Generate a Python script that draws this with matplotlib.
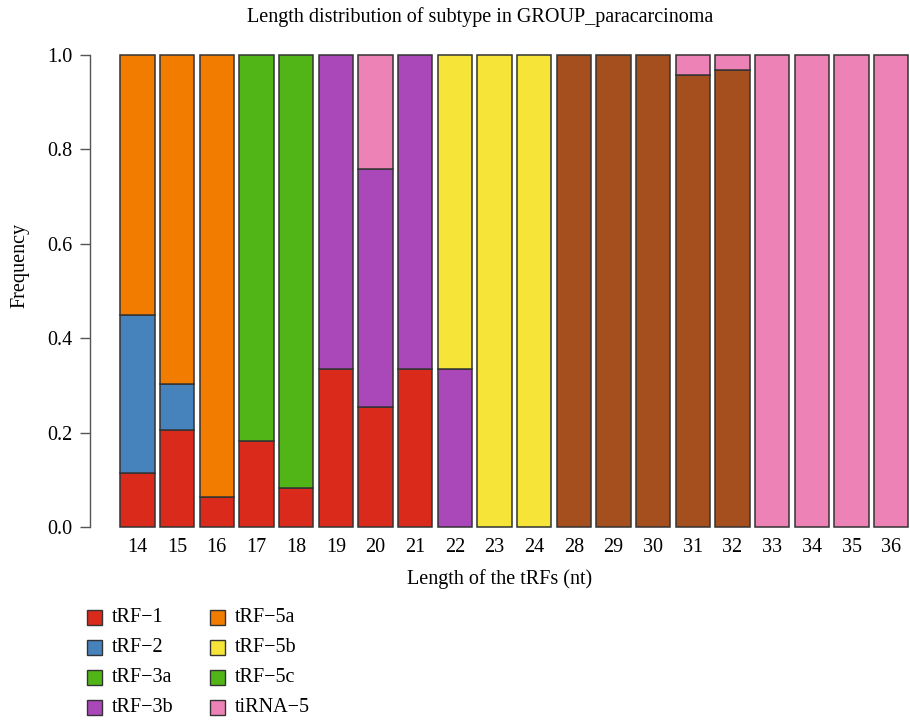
import numpy as np
import matplotlib
matplotlib.use("Agg")
import matplotlib.pyplot as plt
from matplotlib.patches import Rectangle

lengths = ["14", "15", "16", "17", "18", "19", "20", "21", "22", "23",
           "24", "28", "29", "30", "31", "32", "33", "34", "35", "36"]

subtypes = ["tRF\u22121", "tRF\u22122", "tRF\u22123a", "tRF\u22123b",
            "tRF\u22125a", "tRF\u22125b", "tRF\u22125c", "tiRNA\u22125"]

trf_1   = [0.115, 0.205, 0.064, 0.182, 0.083, 0.335, 0.255, 0.335, 0, 0, 0, 0, 0, 0, 0, 0, 0, 0, 0, 0]
trf_2   = [0.335, 0.098, 0, 0, 0, 0, 0, 0, 0, 0, 0, 0, 0, 0, 0, 0, 0, 0, 0, 0]
trf_3a  = [0, 0, 0, 0.818, 0.917, 0, 0, 0, 0, 0, 0, 0, 0, 0, 0, 0, 0, 0, 0, 0]
trf_3b  = [0, 0, 0, 0, 0, 0.665, 0.503, 0.665, 0.335, 0, 0, 0, 0, 0, 0, 0, 0, 0, 0, 0]
trf_5a  = [0.550, 0.697, 0.936, 0, 0, 0, 0, 0, 0, 0, 0, 0, 0, 0, 0, 0, 0, 0, 0, 0]
trf_5b  = [0, 0, 0, 0, 0, 0, 0, 0, 0.665, 1, 1, 0, 0, 0, 0, 0, 0, 0, 0, 0]
trf_5c  = [0, 0, 0, 0, 0, 0, 0, 0, 0, 0, 0, 1, 1, 1, 0.958, 0.968, 0, 0, 0, 0]
tirna_5 = [0, 0, 0, 0, 0, 0, 0.242, 0, 0, 0, 0, 0, 0, 0, 0.042, 0.032, 1, 1, 1, 1]

series = [trf_1, trf_2, trf_3a, trf_3b, trf_5a, trf_5b, trf_5c, tirna_5]
bar_colors = ["#D92A1C", "#4682BC", "#52B517", "#AA48BA",
              "#F17C00", "#F7E439", "#A54F1E", "#EC82B6"]
legend_colors = ["#D92A1C", "#4682BC", "#52B517", "#AA48BA",
                 "#F17C00", "#F7E439", "#52B517", "#EC82B6"]

plt.rcParams["font.family"] = ["Liberation Serif", "DejaVu Serif"]
FS = 14.5

W, H = 910, 720
fig = plt.figure(figsize=(W / 100, H / 100), dpi=100)


def fx(px):
    return px / W


def fy(py):
    return 1 - py / H


# plot region in pixel coordinates
left_px, right_px = 90, 910
bottom_px, top_px = 527, 55
ax = fig.add_axes([fx(left_px), fy(bottom_px),
                   (right_px - left_px) / W, (bottom_px - top_px) / H])

pitch = 39.67
center0 = 137.45
ax.set_xlim((left_px - center0) / pitch, (right_px - center0) / pitch)
ax.set_ylim(0, 1)

x = np.arange(len(lengths))
bottom = np.zeros(len(lengths))
for vals, col in zip(series, bar_colors):
    vals = np.array(vals, dtype=float)
    mask = vals > 0
    ax.bar(x[mask], vals[mask], bottom=bottom[mask], width=0.865,
           color=col, edgecolor="#333333", linewidth=1.1, clip_on=False)
    bottom += vals

for s in ["top", "right", "bottom"]:
    ax.spines[s].set_visible(False)
ax.spines["left"].set_color("#555555")
ax.spines["left"].set_linewidth(1.0)
ax.spines["left"].set_bounds(0, 1)

ax.set_yticks([0, 0.2, 0.4, 0.6, 0.8, 1.0])
ax.set_yticklabels(["0.0", "0.2", "0.4", "0.6", "0.8", "1.0"])
ax.tick_params(axis="y", length=7.2, width=1.0, color="#555555", labelsize=FS, pad=5.5)
ax.set_xticks(x)
ax.set_xticklabels(lengths)
ax.tick_params(axis="x", length=0, labelsize=FS, pad=8)

fig.text(fx(20), fy(265), "Frequency", rotation=90, ha="center", va="center", fontsize=FS)
fig.text(fx(500), fy(579), "Length of the tRFs (nt)", ha="center", va="center", fontsize=FS)
fig.text(fx(480), fy(17), "Length distribution of subtype in GROUP_paracarcinoma",
         ha="center", va="center", fontsize=FS)

# legend: two columns of four entries
sq = 15
row_y = [617, 647, 677, 707]
col_x = [87, 210]
for k, (name, col) in enumerate(zip(subtypes, legend_colors)):
    cx = col_x[k // 4]
    cy = row_y[k % 4]
    fig.patches.append(Rectangle((fx(cx), fy(cy + sq / 2)), sq / W, sq / H,
                                 transform=fig.transFigure, facecolor=col,
                                 edgecolor="#333333", linewidth=1.0))
    fig.text(fx(cx + sq + 10), fy(cy), name, ha="left", va="center", fontsize=FS)

fig.savefig("out.png", dpi=100)
